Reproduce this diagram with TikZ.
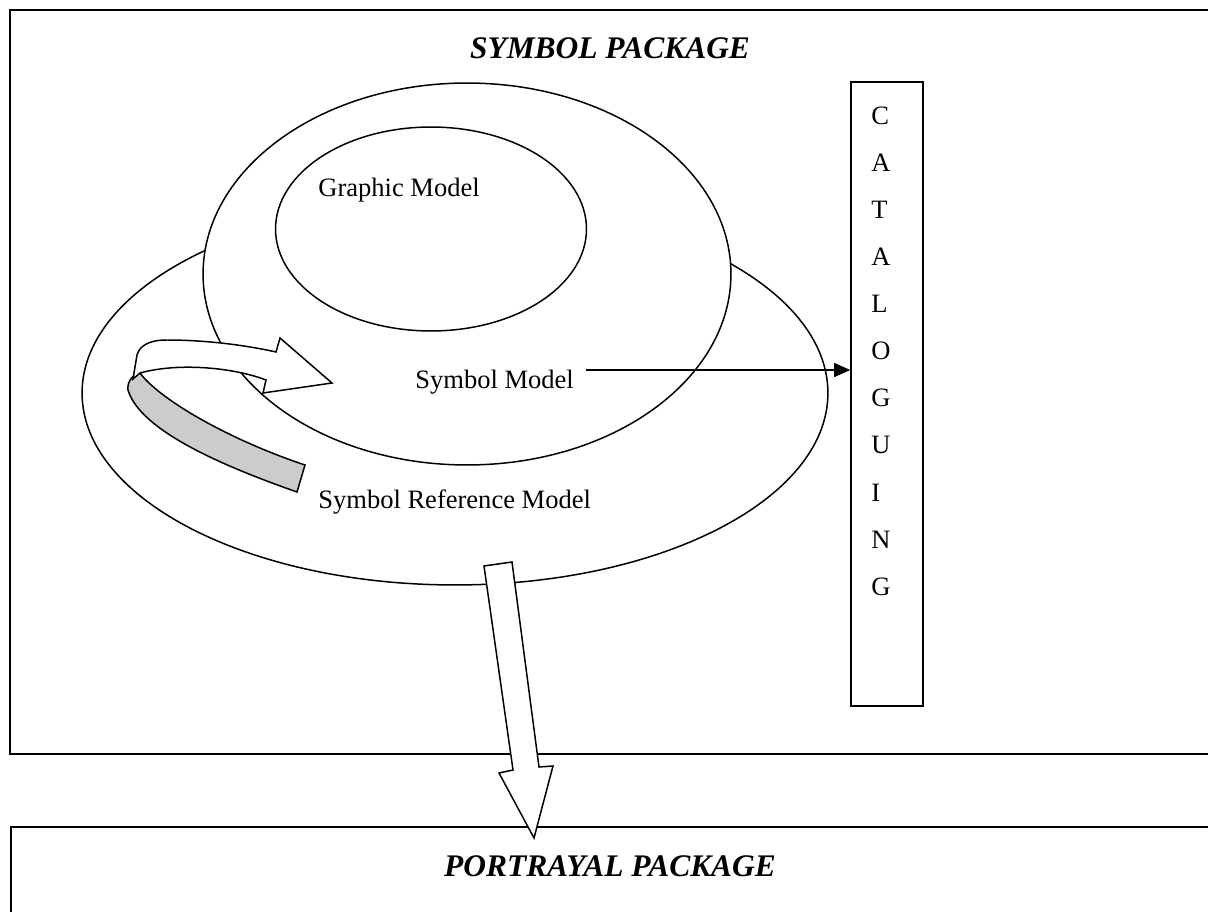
\documentclass[tikz,border=0pt]{standalone}
\usepackage{fontspec}
\setmainfont{Liberation Serif}
\usetikzlibrary{shapes,arrows.meta}

\begin{document}
\begin{tikzpicture}[
    x=0.02cm, y=-0.02cm,
    pkg/.style={draw, line width=1.1pt},
    model/.style={draw, ellipse, fill=white, inner sep=0pt, line width=0.85pt},
    lbl/.style={anchor=base west, inner sep=0pt, font=\fontsize{15.1}{18}\selectfont},
    title/.style={anchor=base, inner sep=0pt, font=\fontsize{17.9}{21}\selectfont\bfseries\itshape},
    catbox/.style={draw, rectangle, line width=0.9pt, minimum width=1.44cm, minimum height=12.48cm, inner sep=0pt},
    ribbon/.style={draw, line width=0.85pt, line join=miter}
]
    \clip (0,0) rectangle (1208,912);

    % Packages
    \draw [pkg] (10,10) rectangle (1230,754);
    \draw [pkg] (11,827) rectangle (1230,940);
    \node [title] (symbolpkg) at (610,59) {SYMBOL PACKAGE};
    \node [title] (portrayalpkg) at (610,876) {PORTRAYAL PACKAGE};

    % Models
    \node [model, minimum width=14.92cm, minimum height=7.68cm] (refmodel) at (455,393) {};
    \node [model, minimum width=10.56cm, minimum height=7.64cm] (symmodel) at (467,274) {};
    \node [model, minimum width=6.22cm, minimum height=4.08cm] (graphmodel) at (431,229) {};
    \node [lbl] (graphlbl) at (318,197) {Graphic Model};
    \node [lbl] (symlbl) at (415,389) {Symbol Model};
    \node [lbl] (reflbl) at (318,508) {Symbol Reference Model};

    % Cataloguing
    \node [catbox] (catalog) at (887,394) {};
    \foreach \i/\ch in {0/C, 1/A, 2/T, 3/A, 4/L, 5/O, 6/G, 7/U, 8/I, 9/N, 10/G} {
        \node [lbl] at (871,125+\i*47) {\ch};
    }

    % Symbol Model to Cataloguing
    \coordinate (symout) at (586,370);
    \draw [-{Triangle[length=0.32cm,width=0.28cm]}, line width=0.75pt] (symout) -- (symout -| catalog.west);

    % Curled arrow
    \draw [ribbon, fill=gray!40] (140,373) .. controls (160,400) and (230,440) .. (305,465) -- (297,492)
        .. controls (220,465) and (140,430) .. (128,390) .. controls (127,382) and (132,375) .. (140,373) -- cycle;
    \draw [ribbon, fill=white] (133,379) -- (137,355) .. controls (140,345) and (150,340) .. (167,340)
        .. controls (205,340) and (245,345) .. (276,352) -- (280,338) -- (332,383) -- (263,393) -- (266,380)
        .. controls (235,368) and (180,362) .. (140,373) -- cycle;

    % Down arrow
    \draw [ribbon, fill=white] (484,566) -- (512,562) -- (539,767) -- (553,766) -- (534,838) -- (499,773) -- (513,770) -- cycle;
\end{tikzpicture}
\end{document}
